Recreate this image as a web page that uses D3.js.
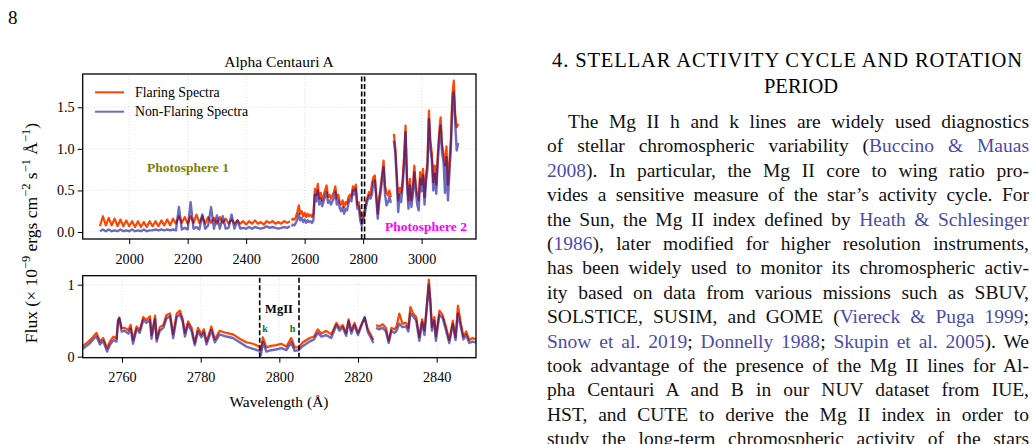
<!DOCTYPE html>
<html>
<head>
<meta charset="utf-8">
<script src="https://cdn.jsdelivr.net/npm/d3@7"></script>
<style>
body { margin: 0; background: #fff; }
svg { display: block; }
</style>
</head>
<body>
<div id="page"></div>
<script>
// ---- data ----
// upper panel, blue-side part sampled every 10 A (1900..2550)
var topWaveA = d3.range(1900, 2551, 10);
var flareTopA = [0.07,0.19,0.08,0.17,0.08,0.16,0.07,0.15,0.07,0.14,0.07,0.13,0.06,0.13,0.06,0.12,0.06,0.13,0.07,0.13,
    0.07,0.14,0.08,0.15,0.08,0.16,0.10,0.19,0.11,0.18,0.10,0.19,0.11,0.21,0.11,0.19,0.10,0.18,0.11,0.17,
    0.10,0.18,0.11,0.16,0.10,0.15,0.10,0.14,0.10,0.13,0.09,0.13,0.10,0.14,0.10,0.12,0.09,0.13,0.11,0.13,
    0.10,0.12,0.10,0.13,0.11,0.13];
var quietTopA = [0.01,0.03,0.01,0.03,0.01,0.02,0.01,0.03,0.01,0.02,0.01,0.03,0.01,0.02,0.01,0.03,0.01,0.02,0.02,0.03,
    0.02,0.03,0.02,0.03,0.02,0.03,0.02,0.30,0.03,0.05,0.03,0.36,0.04,0.06,0.03,0.21,0.04,0.08,0.30,0.04,
    0.20,0.04,0.19,0.04,0.05,0.21,0.04,0.14,0.04,0.05,0.04,0.06,0.04,0.06,0.05,0.04,0.05,0.07,0.05,0.06,
    0.05,0.04,0.05,0.06,0.05,0.07];
// upper panel, red-side part sampled every 5 A (2555..3125)
var topWaveB = d3.range(2555, 3126, 5);
var flareTopB = [0.14,0.16,0.15,0.18,0.24,0.32,0.22,0.25,0.19,0.23,0.18,0.22,0.19,0.21,0.18,0.22,
    0.52,0.44,0.58,0.40,0.47,0.38,0.44,0.50,0.56,0.42,0.45,0.40,0.44,0.48,0.55,0.40,0.45,0.36,0.33,0.38,
    0.30,0.36,0.34,0.42,0.45,0.42,0.55,0.50,0.57,0.33,0.36,0.22,0.14,0.20,0.26,0.36,0.42,0.48,0.45,0.58,
    0.66,0.68,0.45,0.22,0.42,0.55,0.70,0.86,0.55,0.48,0.44,0.50,0.42,null,1.18,1.02,0.70,0.38,0.53,0.47,
    0.63,0.90,1.28,0.67,0.38,0.64,0.38,0.53,0.80,0.57,0.45,0.38,0.72,0.57,0.76,0.42,0.68,0.84,1.46,1.10,
    0.95,0.60,0.80,0.57,0.92,1.20,1.38,1.05,0.95,0.80,1.03,0.57,0.84,1.11,1.65,1.82,1.42,1.26,1.30];
var quietTopB = [0.07,0.09,0.08,0.11,0.15,0.22,0.14,0.17,0.12,0.15,0.11,0.14,0.12,0.13,0.11,0.14,
    0.45,0.37,0.50,0.33,0.40,0.31,0.37,0.43,0.48,0.35,0.38,0.33,0.37,0.41,0.48,0.33,0.38,0.29,0.25,0.30,
    0.22,0.28,0.26,0.35,0.40,0.37,0.50,0.45,0.52,0.28,0.31,0.14,0.08,0.14,0.20,0.31,0.38,0.44,0.40,0.45,
    0.60,0.62,0.40,0.16,0.36,0.48,0.64,0.78,0.45,0.32,0.36,0.42,0.35,null,1.10,0.95,0.62,0.24,0.45,0.36,
    0.55,0.82,1.20,0.58,0.28,0.56,0.30,0.45,0.72,0.50,0.33,0.26,0.64,0.49,0.68,0.33,0.60,0.76,1.36,1.00,
    0.86,0.50,0.70,0.46,0.82,1.10,1.28,0.95,0.84,0.47,0.90,0.38,0.70,1.00,1.50,1.68,1.30,0.98,1.07];

// lower panel (zoom on Mg II h & k)
var botWave = [2750.0,2751.0,2751.9,2753.0,2753.5,2754.4,2755.2,2756.2,2756.9,2757.8,2758.6,2759.0,2759.3,2759.9,
    2760.7,2761.6,2762.2,2762.8,2763.7,2764.5,2765.4,2766.2,2767.1,2767.5,2768.4,2768.8,2769.6,2770.5,2771.3,
    2772.2,2773.0,2773.9,2774.7,2775.4,2776.0,2776.8,2777.7,2778.5,2779.3,2780.2,2780.8,2781.5,2782.7,2783.6,
    2784.8,2786.5,2788.2,2789.9,2791.6,2793.3,2794.9,2795.3,2795.8,2796.7,2797.9,2799.2,2800.5,2801.8,2803.0,
    2803.9,2804.9,2806.0,2807.7,2808.8,2809.8,2810.7,2811.9,2813.2,2814.5,2815.3,2816.1,2817.0,2817.6,2818.3,
    2819.1,2820.0,2820.8,2821.7,2822.5,2823.4,2823.9,2824.2,2824.6,2825.4,2826.3,2827.1,2827.8,2828.5,2829.3,
    2829.8,2830.5,2831.3,2832.2,2832.8,2833.3,2834.0,2834.8,2835.6,2836.3,2836.9,2837.6,2838.0,2838.4,2838.8,
    2839.4,2839.8,2840.7,2841.5,2842.4,2843.2,2844.1,2844.8,2845.4,2846.2,2846.8,2847.5,2848.3,2849.1,2850.0];
var flareBot = [0.15,0.19,0.23,0.30,0.33,0.21,0.26,0.12,0.21,0.28,0.25,0.50,0.54,0.40,
    0.40,0.37,0.44,0.23,0.42,0.37,0.55,0.51,0.56,0.30,0.57,0.25,0.41,0.44,0.58,
    0.60,0.31,0.60,0.64,0.53,0.33,0.49,0.40,0.19,0.40,0.31,0.38,0.21,0.42,0.24,
    0.36,0.33,0.31,0.25,0.20,0.18,0.14,0.09,0.27,0.13,0.15,0.16,0.18,0.14,0.26,
    0.13,0.13,0.20,0.26,0.28,0.38,0.32,0.36,0.31,0.47,0.40,0.44,0.33,0.52,0.36,
    0.47,0.33,0.44,0.54,0.38,0.29,0.23,null,0.44,0.42,0.45,0.40,0.22,0.40,0.38,
    0.42,0.60,0.46,0.47,0.40,0.69,0.60,0.55,0.27,0.52,0.36,0.79,1.07,0.79,0.41,
    0.55,0.28,0.64,0.58,0.41,0.23,0.50,0.27,0.71,0.45,0.28,0.35,0.23,0.26,0.24];
var quietBot = [0.11,0.15,0.19,0.26,0.28,0.17,0.22,0.07,0.16,0.23,0.21,0.50,0.54,0.35,
    0.36,0.32,0.39,0.18,0.38,0.33,0.51,0.47,0.51,0.25,0.52,0.21,0.36,0.40,0.53,
    0.56,0.26,0.55,0.59,0.49,0.28,0.45,0.35,0.16,0.35,0.27,0.34,0.17,0.37,0.20,
    0.31,0.28,0.26,0.20,0.14,0.11,0.08,0.02,0.20,0.07,0.09,0.10,0.12,0.09,0.20,
    0.08,0.09,0.15,0.21,0.24,0.33,0.28,0.30,0.26,0.44,0.36,0.41,0.29,0.49,0.32,
    0.44,0.30,0.42,0.55,0.34,0.25,0.19,null,0.40,0.38,0.40,0.35,0.19,0.36,0.33,
    0.36,0.46,0.41,0.42,0.35,0.60,0.56,0.50,0.22,0.48,0.30,0.74,1.00,0.74,0.36,
    0.50,0.22,0.58,0.54,0.36,0.19,0.45,0.23,0.60,0.40,0.24,0.30,0.19,0.21,0.20];

var mgLines = [2795, 2805];
var topXTicks = [2000, 2200, 2400, 2600, 2800, 3000];
var topYTicks = [0, 0.5, 1.0, 1.5];
var botXTicks = [2760, 2780, 2800, 2820, 2840];
var botYTicks = [0, 1];
var seriesNames = ["Flaring Spectra", "Non-Flaring Spectra"];

// text column: [text, isCitation] pieces per line
var headLines = ["4.  STELLAR ACTIVITY CYCLE AND ROTATION", "PERIOD"];
var bodyLines = [
    [["The Mg II h and k lines are widely used diagnostics", 0]],
    [["of stellar chromospheric variability (", 0], ["Buccino & Mauas", 1]],
    [["2008", 1], ["). In particular, the Mg II core to wing ratio pro-", 0]],
    [["vides a sensitive measure of the star\u2019s activity cycle. For", 0]],
    [["the Sun, the Mg II index defined by ", 0], ["Heath & Schlesinger", 1]],
    [["(", 0], ["1986", 1], ["), later modified for higher resolution instruments,", 0]],
    [["has been widely used to monitor its chromospheric activ-", 0]],
    [["ity based on data from various missions such as SBUV,", 0]],
    [["SOLSTICE, SUSIM, and GOME (", 0], ["Viereck & Puga 1999", 1], [";", 0]],
    [["Snow et al. 2019", 1], ["; ", 0], ["Donnelly 1988", 1], ["; ", 0], ["Skupin et al. 2005", 1], ["). We", 0]],
    [["took advantage of the presence of the Mg II lines for Al-", 0]],
    [["pha Centauri A and B in our NUV dataset from IUE,", 0]],
    [["HST, and CUTE to derive the Mg II index in order to", 0]],
    [["study the long-term chromospheric activity of the stars", 0]]
];

var flareColor = "#ff4500";
var quietColor = "#14109a";
var serif = "'Liberation Serif', 'Times New Roman', serif";

var svg = d3.select("#page")
    .append("svg")
    .attr("width", 1034)
    .attr("height", 444)
    .style("font-family", serif);

svg.append("text")
    .attr("x", 8).attr("y", 24)
    .attr("font-size", 19)
    .text("8");

// ---- panels ----
var left = 82.7, right = 476;
var xTop = d3.scaleLinear().domain([1841, 3186]).range([left, right]);
var yTop = d3.scaleLinear().domain([-0.084, 1.9]).range([239, 74]);
var xBot = d3.scaleLinear().domain([2750, 2850]).range([left, right]);
var yBot = d3.scaleLinear().domain([-0.014, 1.125]).range([357.7, 275.7]);

function makePts(w, v) {
    return w.map(function(d, i) { return [d, v[i]]; });
}

function drawPanel(id, x, y, xt, yt, yfmt, labelY, series) {
    var g = svg.append("g");
    g.append("clipPath").attr("id", id)
        .append("rect")
        .attr("x", x.range()[0]).attr("y", y.range()[1])
        .attr("width", x.range()[1] - x.range()[0])
        .attr("height", y.range()[0] - y.range()[1]);

    // grid
    g.selectAll(".vg").data(xt).enter().append("line")
        .attr("x1", function(d) { return x(d); }).attr("x2", function(d) { return x(d); })
        .attr("y1", y.range()[0]).attr("y2", y.range()[1])
        .attr("stroke", "#d9d9d9").attr("stroke-width", 0.8).attr("stroke-dasharray", "1,2");
    g.selectAll(".hg").data(yt).enter().append("line")
        .attr("y1", function(d) { return y(d); }).attr("y2", function(d) { return y(d); })
        .attr("x1", x.range()[0]).attr("x2", x.range()[1])
        .attr("stroke", "#d9d9d9").attr("stroke-width", 0.8).attr("stroke-dasharray", "1,2");

    var line = d3.line()
        .defined(function(d) { return d[1] !== null; })
        .x(function(d) { return x(d[0]); })
        .y(function(d) { return y(d[1]); });

    var plot = g.append("g").attr("clip-path", "url(#" + id + ")");
    series.forEach(function(s) {
        plot.append("path")
            .datum(s.pts)
            .attr("fill", "none")
            .attr("stroke", s.color)
            .attr("stroke-opacity", s.op)
            .attr("stroke-width", s.w)
            .attr("stroke-linejoin", "round")
            .attr("d", line);
    });

    // Mg II markers
    plot.selectAll(".mg").data(mgLines).enter().append("line")
        .attr("x1", function(d) { return x(d); }).attr("x2", function(d) { return x(d); })
        .attr("y1", y.range()[0]).attr("y2", y.range()[1])
        .attr("stroke", "#000").attr("stroke-width", 1.6).attr("stroke-dasharray", "5,2.5");

    // axes
    var ax = g.append("g")
        .attr("transform", "translate(0," + y.range()[0] + ")")
        .call(d3.axisBottom(x).tickValues(xt).tickSize(5).tickPadding(3).tickFormat(d3.format("d")));
    var ay = g.append("g")
        .attr("transform", "translate(" + x.range()[0] + ",0)")
        .call(d3.axisLeft(y).tickValues(yt).tickSize(5).tickPadding(3).tickFormat(d3.format(yfmt)));
    [ax, ay].forEach(function(a) {
        a.select(".domain").remove();
        a.selectAll("text").attr("font-family", serif).attr("font-size", 14.2).attr("fill", "#000");
        a.selectAll("line").attr("stroke", "#000").attr("stroke-width", 1);
    });
    ax.selectAll("text").attr("dy", null).attr("y", labelY - y.range()[0]);

    g.append("rect")
        .attr("x", x.range()[0]).attr("y", y.range()[1])
        .attr("width", x.range()[1] - x.range()[0])
        .attr("height", y.range()[0] - y.range()[1])
        .attr("fill", "none").attr("stroke", "#000").attr("stroke-width", 1.3);
    return g;
}

drawPanel("clipTop", xTop, yTop, topXTicks, topYTicks, ".1f", 264, [
    {pts: makePts(topWaveA, flareTopA), color: flareColor, op: 1, w: 2.2},
    {pts: makePts(topWaveB, flareTopB), color: flareColor, op: 1, w: 2.2},
    {pts: makePts(topWaveA, quietTopA), color: quietColor, op: 0.62, w: 2.4},
    {pts: makePts(topWaveB, quietTopB), color: quietColor, op: 0.62, w: 2.4}
]);

drawPanel("clipBot", xBot, yBot, botXTicks, botYTicks, "d", 381.7, [
    {pts: makePts(botWave, flareBot), color: flareColor, op: 1, w: 2.2},
    {pts: makePts(botWave, quietBot), color: quietColor, op: 0.62, w: 2.4}
]);

// legend
var leg = svg.append("g");
[flareColor, quietColor].forEach(function(c, i) {
    var yy = 92.3 + i * 19.4;
    leg.append("line")
        .attr("x1", 95).attr("x2", 124).attr("y1", yy).attr("y2", yy)
        .attr("stroke", c).attr("stroke-width", 2).attr("stroke-opacity", i ? 0.62 : 1);
    leg.append("text")
        .attr("x", 135).attr("y", yy + 4.5)
        .attr("font-size", 13.8)
        .text(seriesNames[i]);
});

// annotations
svg.append("text").attr("x", 279).attr("y", 67).attr("text-anchor", "middle")
    .attr("font-size", 15.5).text("Alpha Centauri A");
svg.append("text").attr("x", 188).attr("y", 172.3).attr("text-anchor", "middle")
    .attr("font-size", 13.5).attr("font-weight", "bold").attr("fill", "#808000").text("Photosphere 1");
svg.append("text").attr("x", 426).attr("y", 230.7).attr("text-anchor", "middle")
    .attr("font-size", 13.5).attr("font-weight", "bold").attr("fill", "#ff00ff").text("Photosphere 2");
svg.append("text").attr("x", 279).attr("y", 312.7).attr("text-anchor", "middle")
    .attr("font-size", 12.5).attr("font-weight", "bold").text("MgII");
svg.append("text").attr("x", 265).attr("y", 331.7).attr("text-anchor", "middle")
    .attr("font-size", 10).attr("font-weight", "bold").attr("fill", "#008000").text("k");
svg.append("text").attr("x", 292.5).attr("y", 331.7).attr("text-anchor", "middle")
    .attr("font-size", 10).attr("font-weight", "bold").attr("fill", "#008000").text("h");

svg.append("text").attr("x", 279).attr("y", 406.7).attr("text-anchor", "middle")
    .attr("font-size", 15.5).text("Wavelength (\u00c5)");

var yl = svg.append("text")
    .attr("transform", "translate(37,233) rotate(-90)")
    .attr("text-anchor", "middle")
    .attr("font-size", 17.5);
[["Flux (\u00d7 10", 0], ["\u22129", 1], [" ergs cm", 0], ["\u22122", 1], [" s", 0], ["\u22121", 1], [" \u00c5", 0], ["\u22121", 1], [")", 0]]
    .forEach(function(p, i) {
        var t = yl.append("tspan").text(p[0]);
        if (p[1]) t.attr("font-size", 12.5).attr("dy", -7);
        else if (i > 0) t.attr("dy", 7);
    });

// ---- text column ----
var colL = 547, colR = 1029, lead = 24.4, firstBase = 128;
var cite = "#4b4bab";

svg.append("text").attr("x", 787).attr("y", 66.7).attr("text-anchor", "middle")
    .attr("font-size", 20.5).attr("textLength", 470).attr("lengthAdjust", "spacing")
    .text(headLines[0]);
svg.append("text").attr("x", 801).attr("y", 92.7).attr("text-anchor", "middle")
    .attr("font-size", 20.5).text(headLines[1]);

bodyLines.forEach(function(parts, i) {
    var x0 = i === 0 ? 568 : colL;
    var t = svg.append("text")
        .attr("x", x0).attr("y", firstBase + i * lead)
        .attr("font-size", 19.5)
        .attr("fill", "#111");
    parts.forEach(function(p) {
        t.append("tspan").attr("fill", p[1] ? cite : "#111").text(p[0]);
    });
    var full = parts.map(function(p) { return p[0]; }).join("");
    var spaces = (full.match(/ /g) || []).length;
    var w = t.node().getComputedTextLength();
    if (spaces) t.attr("word-spacing", (colR - x0 - w) / spaces);
});
</script>
</body>
</html>
